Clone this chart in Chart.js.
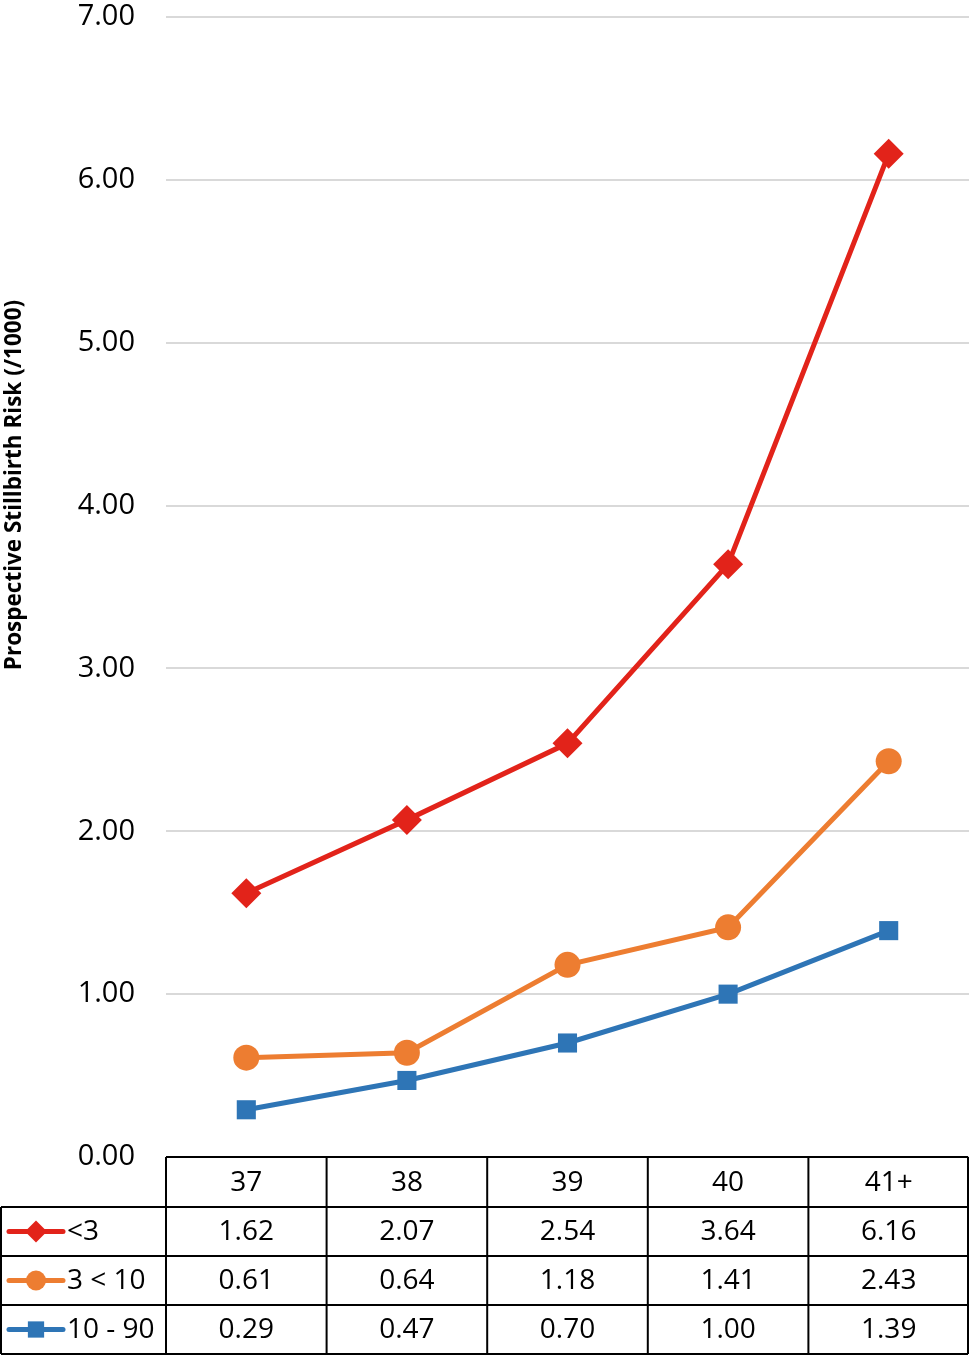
<!DOCTYPE html>
<html>
<head>
<title>Prospective Stillbirth Risk</title>
<script src="https://cdn.jsdelivr.net/npm/chart.js"></script>
<style>
    html, body { margin: 0; padding: 0; background: #fff; overflow: hidden; }
    canvas { display: block; }
</style>
</head>
<body>
<canvas id="riskChart" width="970" height="1356"></canvas>
<script>
    const weeks = ['37', '38', '39', '40', '41+'];
    const under3 = [1.62, 2.07, 2.54, 3.64, 6.16];
    const from3to10 = [0.61, 0.64, 1.18, 1.41, 2.43];
    const from10to90 = [0.29, 0.47, 0.70, 1.00, 1.39];
    const seriesNames = ['<3', '3 < 10', '10 - 90'];
    const yTitle = 'Prospective Stillbirth Risk (/1000)';

    const FONT = '"Open Sans", "Liberation Sans", sans-serif';

    const datasets = [
        {label: seriesNames[0], data: under3, color: '#e2231a', style: 'rectRot', radius: 15, legendRadius: 11},
        {label: seriesNames[1], data: from3to10, color: '#ed7d31', style: 'circle', radius: 13, legendRadius: 10},
        {label: seriesNames[2], data: from10to90, color: '#2e75b6', style: 'rect', radius: 13.5, legendRadius: 11.5}
    ].map(s => ({
        label: s.label,
        data: s.data,
        borderColor: s.color,
        backgroundColor: s.color,
        borderWidth: 5,
        pointStyle: s.style,
        pointRadius: s.radius,
        pointBorderWidth: 0,
        pointBackgroundColor: s.color,
        legendRadius: s.legendRadius,
        tension: 0,
        clip: false
    }));

    function noPadding(scale) {
        scale.paddingTop = 0;
        scale.paddingBottom = 0;
        scale.paddingLeft = 0;
        scale.paddingRight = 0;
    }

    // y axis title, placed where the original had it
    const axisTitle = {
        id: 'axisTitle',
        afterDraw(chart) {
            const ctx = chart.ctx;
            ctx.save();
            ctx.translate(15, 485);
            ctx.rotate(-Math.PI / 2);
            ctx.font = 'bold 22.5px ' + FONT;
            ctx.fillStyle = '#000';
            ctx.textAlign = 'center';
            ctx.textBaseline = 'middle';
            ctx.fillText(yTitle, 0, 0);
            ctx.restore();
        }
    };

    // Excel-style data table under the plot, with legend keys in the first column
    const dataTable = {
        id: 'dataTable',
        afterDraw(chart) {
            const ctx = chart.ctx;
            const x = chart.scales.x;
            const area = chart.chartArea;
            const half = (area.right - area.left) / weeks.length / 2;
            const headerH = 50, rowH = 49;
            const top = area.bottom;
            const bottom = top + headerH + rowH * datasets.length;

            ctx.save();
            ctx.strokeStyle = '#000';
            ctx.lineWidth = 2;
            ctx.beginPath();
            // horizontal lines
            ctx.moveTo(area.left, top); ctx.lineTo(area.right - 1, top);
            for (let r = 0; r <= datasets.length; r++) {
                const y = top + headerH + r * rowH;
                ctx.moveTo(1, y); ctx.lineTo(area.right - 1, y);
            }
            // vertical lines
            ctx.moveTo(1, top + headerH); ctx.lineTo(1, bottom);
            weeks.forEach((w, i) => {
                const cx = x.getPixelForValue(i);
                ctx.moveTo(cx - half, top); ctx.lineTo(cx - half, bottom);
            });
            ctx.moveTo(area.right - 1, top); ctx.lineTo(area.right - 1, bottom);
            ctx.stroke();

            ctx.fillStyle = '#000';
            ctx.font = '28px ' + FONT;
            ctx.textAlign = 'center';
            ctx.textBaseline = 'middle';
            weeks.forEach((w, i) => {
                ctx.fillText(w, x.getPixelForValue(i), top + headerH / 2 + 1);
            });
            datasets.forEach((ds, r) => {
                const cy = top + headerH + r * rowH + rowH / 2 + 1;
                ds.data.forEach((v, i) => {
                    ctx.fillText(v.toFixed(2), x.getPixelForValue(i), cy);
                });
                // legend key
                ctx.strokeStyle = ds.borderColor;
                ctx.lineWidth = 5;
                ctx.lineCap = 'round';
                ctx.beginPath();
                ctx.moveTo(9, cy - 1); ctx.lineTo(63, cy - 1);
                ctx.stroke();
                ctx.fillStyle = ds.borderColor;
                Chart.helpers.drawPoint(ctx, {pointStyle: ds.pointStyle, rotation: 0, radius: ds.legendRadius, borderWidth: 0}, 36, cy - 1);
                ctx.fillStyle = '#000';
                ctx.textAlign = 'left';
                ctx.fillText(ds.label, 67, cy);
                ctx.textAlign = 'center';
            });
            ctx.restore();
        }
    };

    const ctx = document.getElementById('riskChart').getContext('2d');
    const riskChart = new Chart(ctx, {
        type: 'line',
        data: {labels: weeks, datasets: datasets},
        options: {
            responsive: false,
            animation: false,
            layout: {autoPadding: false, padding: {top: 17, bottom: 199, right: 1, left: 0}},
            plugins: {
                legend: {display: false},
                tooltip: {enabled: false}
            },
            scales: {
                x: {display: false, offset: true, afterFit: noPadding},
                y: {
                    min: 0,
                    max: 7,
                    border: {display: false},
                    grid: {color: '#d9d9d9', lineWidth: 2, drawTicks: false},
                    ticks: {
                        stepSize: 1,
                        padding: 31,
                        color: '#000',
                        font: {family: FONT, size: 29},
                        callback: v => v.toFixed(2)
                    },
                    afterFit(scale) {
                        scale.width = 166;
                        noPadding(scale);
                    }
                }
            }
        },
        plugins: [axisTitle, dataTable]
    });
</script>
</body>
</html>
